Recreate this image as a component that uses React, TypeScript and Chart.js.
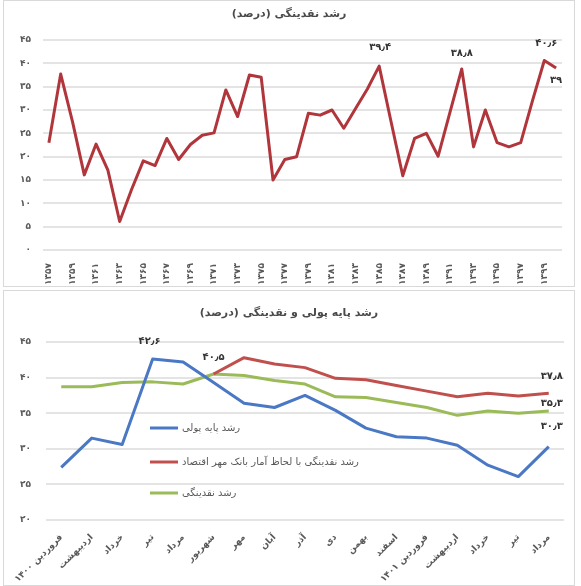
import React, { useEffect, useRef } from 'react';
import { Chart, registerables } from 'chart.js';

Chart.register(...registerables);

// ---------- Top chart data ----------
const years = [
  '1357', '1358', '1359', '1360', '1361', '1362', '1363', '1364', '1365', '1366', '1367',
  '1368', '1369', '1370', '1371', '1372', '1373', '1374', '1375', '1376', '1377', '1378',
  '1379', '1380', '1381', '1382', '1383', '1384', '1385', '1386', '1387', '1388', '1389',
  '1390', '1391', '1392', '1393', '1394', '1395', '1396', '1397', '1398', '1399', '1400',
];
const liquidityGrowth = [
  23, 37.7, 27.5, 16.1, 22.7, 17.1, 6.1, 12.9, 19.1, 18.1, 23.9,
  19.4, 22.6, 24.6, 25.1, 34.3, 28.6, 37.5, 37, 15, 19.4, 20,
  29.3, 28.9, 30, 26.1, 30.3, 34.5, 39.4, 27.6, 15.9, 23.9, 25,
  20.1, 29.5, 38.8, 22.1, 30, 23, 22.1, 23, 32, 40.6, 39,
];
const topTitle = 'رشد نقدینگی (درصد)';
const topAnnotated = [28, 35, 42, 43];

// ---------- Bottom chart data ----------
const months = [
  'فروردین ۱۴۰۰', 'اردیبهشت', 'خرداد', 'تیر', 'مرداد', 'شهریور', 'مهر', 'آبان', 'آذر',
  'دی', 'بهمن', 'اسفند', 'فروردین ۱۴۰۱', 'اردیبهشت', 'خرداد', 'تیر', 'مرداد',
];
const baseMoneyGrowth = [27.4, 31.5, 30.6, 42.6, 42.2, 39.3, 36.4, 35.8, 37.5, 35.4, 32.9, 31.7, 31.5, 30.5, 27.7, 26.1, 30.3];
const liquidityWithMehr = [null, null, null, null, null, 40.5, 42.8, 41.9, 41.4, 39.9, 39.7, 38.9, 38.1, 37.3, 37.8, 37.4, 37.8];
const liquidityMonthly = [38.7, 38.7, 39.3, 39.4, 39.1, 40.5, 40.3, 39.6, 39.1, 37.3, 37.2, 36.5, 35.8, 34.7, 35.3, 35.0, 35.3];
const seriesNames = ['رشد پایه پولی', 'رشد نقدینگی با لحاظ آمار بانک مهر اقتصاد', 'رشد نقدینگی'];
const bottomTitle = 'رشد پایه پولی و نقدینگی (درصد)';
// [datasetIndex, pointIndex]
const bottomAnnotated: [number, number][] = [[0, 3], [1, 5], [1, 16], [2, 16], [0, 16]];

// ---------- helpers ----------
const FA = ['۰', '۱', '۲', '۳', '۴', '۵', '۶', '۷', '۸', '۹'];
function fa(v: number | string): string {
  return String(v).replace(/[0-9]/g, (d) => FA[+d]).replace('.', '٫');
}

const FONT = '"DejaVu Sans", sans-serif';
const TICK_COLOR = '#595959';

function titlePlugin(text: string, y: number) {
  return {
    id: 'customTitle',
    afterDraw(chart: any) {
      const ctx = chart.ctx;
      ctx.save();
      ctx.font = `bold 11px ${FONT}`;
      ctx.fillStyle = '#4a4a4a';
      ctx.textAlign = 'center';
      ctx.textBaseline = 'middle';
      ctx.direction = 'rtl';
      ctx.fillText(text, chart.width / 2, y);
      ctx.restore();
    },
  };
}

type Ann = { ds: number; idx: number; dx: number; dy: number };
function valueLabelPlugin(items: Ann[]) {
  return {
    id: 'valueLabels',
    afterDatasetsDraw(chart: any) {
      const ctx = chart.ctx;
      ctx.save();
      ctx.font = `bold 10px ${FONT}`;
      ctx.fillStyle = '#333333';
      ctx.textAlign = 'center';
      ctx.textBaseline = 'middle';
      items.forEach((it) => {
        const pt = chart.getDatasetMeta(it.ds).data[it.idx];
        const val = chart.data.datasets[it.ds].data[it.idx];
        if (!pt || val == null) return;
        ctx.fillText(fa(val), pt.x + it.dx, pt.y + it.dy);
      });
      ctx.restore();
    },
  };
}

function innerLegendPlugin(x: number, ys: number[]) {
  return {
    id: 'innerLegend',
    afterDatasetsDraw(chart: any) {
      const ctx = chart.ctx;
      ctx.save();
      chart.data.datasets.forEach((ds: any, i: number) => {
        const y = ys[i];
        ctx.strokeStyle = ds.borderColor;
        ctx.lineWidth = 3;
        ctx.beginPath();
        ctx.moveTo(x, y);
        ctx.lineTo(x + 28, y);
        ctx.stroke();
        ctx.font = `10px ${FONT}`;
        ctx.fillStyle = '#595959';
        ctx.textAlign = 'left';
        ctx.textBaseline = 'middle';
        ctx.direction = 'rtl';
        ctx.fillText(ds.label, x + 32, y);
      });
      ctx.restore();
    },
  };
}

function TopChart() {
  const ref = useRef<HTMLCanvasElement>(null);
  useEffect(() => {
    const annotations: Ann[] = [
      { ds: 0, idx: topAnnotated[0], dx: 1, dy: -19 },
      { ds: 0, idx: topAnnotated[1], dx: 0, dy: -16 },
      { ds: 0, idx: topAnnotated[2], dx: 2, dy: -17 },
      { ds: 0, idx: topAnnotated[3], dx: 0, dy: 12 },
    ];
    const chart = new Chart(ref.current as HTMLCanvasElement, {
      type: 'line',
      data: {
        labels: years,
        datasets: [
          {
            label: topTitle,
            data: liquidityGrowth,
            borderColor: '#b0363c',
            borderWidth: 3,
            pointRadius: 0,
            tension: 0,
            fill: false,
            borderJoinStyle: 'round',
          },
        ],
      },
      options: {
        animation: false,
        responsive: false,
        devicePixelRatio: 1,
        layout: { padding: { top: 39, right: 12, left: 0, bottom: 0 } },
        plugins: { legend: { display: false }, tooltip: { enabled: false }, title: { display: false } },
        scales: {
          x: {
            offset: true,
            grid: { display: false },
            border: { display: false },
            ticks: {
              autoSkip: false,
              maxRotation: 90,
              minRotation: 90,
              padding: 5,
              color: TICK_COLOR,
              font: { family: FONT, size: 9, weight: 'bold' },
              callback: (_v: any, i: number) => (i % 2 === 0 ? fa(years[i]) : ''),
            },
            afterFit: (s: any) => {
              s.height = 36;
            },
          },
          y: {
            min: 0,
            max: 45,
            ticks: {
              stepSize: 5,
              padding: 12,
              color: TICK_COLOR,
              font: { family: FONT, size: 9, weight: 'bold' },
              callback: (v: any) => fa(v),
            },
            grid: { color: '#e4e4e4', lineWidth: 2, drawTicks: false },
            border: { display: false },
            afterFit: (s: any) => {
              s.width = 39;
            },
          },
        },
      } as any,
      plugins: [titlePlugin(topTitle, 13), valueLabelPlugin(annotations)],
    });
    return () => chart.destroy();
  }, []);
  return <canvas ref={ref} width={570} height={285} style={{ display: 'block' }} />;
}

function BottomChart() {
  const ref = useRef<HTMLCanvasElement>(null);
  useEffect(() => {
    const annotations: Ann[] = [
      { ds: bottomAnnotated[0][0], idx: bottomAnnotated[0][1], dx: -3, dy: -18 },
      { ds: bottomAnnotated[1][0], idx: bottomAnnotated[1][1], dx: 0, dy: -17 },
      { ds: bottomAnnotated[2][0], idx: bottomAnnotated[2][1], dx: 3, dy: -17 },
      { ds: bottomAnnotated[3][0], idx: bottomAnnotated[3][1], dx: 3, dy: -8 },
      { ds: bottomAnnotated[4][0], idx: bottomAnnotated[4][1], dx: 3, dy: -20 },
    ];
    const common = { borderWidth: 3, pointRadius: 0, tension: 0, fill: false, borderJoinStyle: 'round' };
    const chart = new Chart(ref.current as HTMLCanvasElement, {
      type: 'line',
      data: {
        labels: months,
        datasets: [
          { label: seriesNames[0], data: baseMoneyGrowth, borderColor: '#4a78c4', ...common },
          { label: seriesNames[1], data: liquidityWithMehr, borderColor: '#c0504d', ...common },
          { label: seriesNames[2], data: liquidityMonthly, borderColor: '#9bbb59', ...common },
        ],
      },
      options: {
        animation: false,
        responsive: false,
        devicePixelRatio: 1,
        layout: { padding: { top: 51, right: 10, left: 0, bottom: 0 } },
        plugins: { legend: { display: false }, tooltip: { enabled: false }, title: { display: false } },
        scales: {
          x: {
            offset: true,
            grid: { display: false },
            border: { display: false },
            ticks: {
              autoSkip: false,
              maxRotation: 45,
              minRotation: 45,
              padding: 4,
              color: TICK_COLOR,
              font: { family: FONT, size: 9, weight: 'bold' },
            },
            afterFit: (s: any) => {
              s.height = 65;
            },
          },
          y: {
            min: 20,
            max: 45,
            ticks: {
              stepSize: 5,
              padding: 15,
              color: TICK_COLOR,
              font: { family: FONT, size: 9, weight: 'bold' },
              callback: (v: any) => fa(v),
            },
            grid: { color: '#e4e4e4', lineWidth: 2, drawTicks: false },
            border: { display: false },
            afterFit: (s: any) => {
              s.width = 42;
            },
          },
        },
      } as any,
      plugins: [titlePlugin(bottomTitle, 22), innerLegendPlugin(146, [137, 171, 202]), valueLabelPlugin(annotations)],
    });
    return () => chart.destroy();
  }, []);
  return <canvas ref={ref} width={570} height={294} style={{ display: 'block' }} />;
}

export default function App() {
  const box: React.CSSProperties = {
    position: 'absolute',
    left: 3,
    width: 570,
    border: '1px solid #d9d9d9',
    background: '#ffffff',
  };
  return (
    <div style={{ position: 'absolute', left: 0, top: 0, width: 581, height: 586, background: '#ffffff', overflow: 'hidden' }}>
      <div style={{ ...box, top: 0, height: 285 }}>
        <TopChart />
      </div>
      <div style={{ ...box, top: 290, height: 294 }}>
        <BottomChart />
      </div>
    </div>
  );
}
